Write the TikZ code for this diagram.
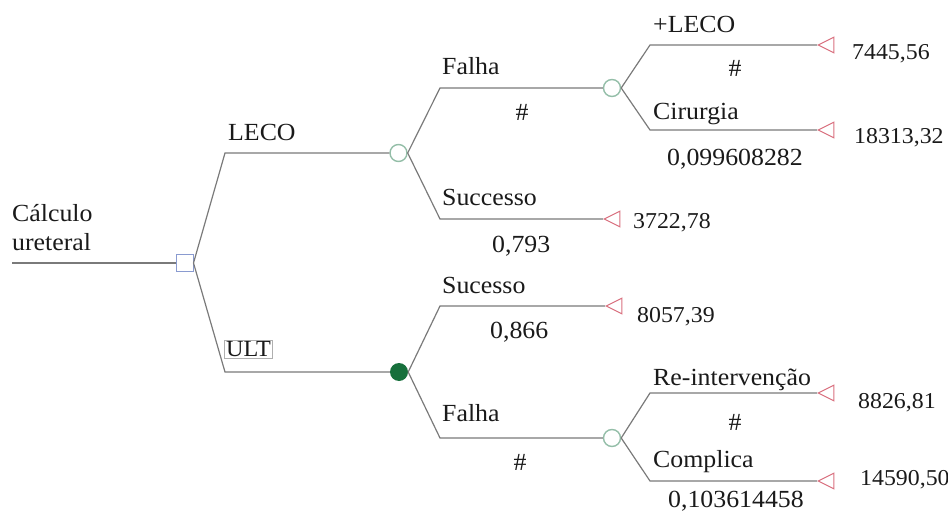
\documentclass[tikz,border=0pt]{standalone}
\usepackage{fontspec}
\setmainfont{Liberation Serif}[FakeStretch=1.05]
\usetikzlibrary{shapes.geometric}
\definecolor{branch}{HTML}{7A7A7A}
\definecolor{chanceline}{HTML}{94BEA8}
\definecolor{chancefill}{HTML}{17703C}
\definecolor{decline}{HTML}{8A9BD0}
\definecolor{termline}{HTML}{D9707F}
\definecolor{ink}{HTML}{1A1A1A}

\begin{document}
\begin{tikzpicture}
  [x=1pt,y=-1pt,
   every node/.style={text=ink,font=\fontsize{24.6}{28}\selectfont},
   lbl/.style={anchor=base west,inner sep=0pt},
   hsh/.style={anchor=base,inner sep=0pt},
   pay/.style={anchor=base west,inner sep=0pt,font=\fontsize{22.7}{25}\selectfont},
   decision/.style={rectangle,draw=decline,line width=1pt,minimum size=17pt,inner sep=0pt},
   chance/.style={circle,draw=chanceline,line width=1.4pt,minimum size=17pt,inner sep=0pt},
   chancedone/.style={circle,fill=chancefill,minimum size=18pt,inner sep=0pt},
   term/.style={isosceles triangle,shape border rotate=180,isosceles triangle stretches,
     draw=termline,line width=1pt,minimum width=15.5pt,minimum height=15.5pt,inner sep=0pt,anchor=apex},
   edge/.style={draw=branch,line width=1.2pt}]
  \useasboundingbox (0,0) rectangle (948,516);
  % tree nodes
  \coordinate (r) at (12,263);
  \node[decision] (d) at (184.5,263) {};
  \node[chance] (c1) at (398.5,153) {};
  \node[chancedone] (c2) at (399,372) {};
  \node[chance] (c3) at (612,88) {};
  \node[chance] (c4) at (612,438) {};
  \node[term] (t1) at (817,45) {};
  \node[term] (t2) at (817,130) {};
  \node[term] (t3) at (603,219) {};
  \node[term] (t4) at (605,306) {};
  \node[term] (t5) at (817,393) {};
  \node[term] (t6) at (817,481) {};
  % corners
  \coordinate (k1) at (225,153);
  \coordinate (k2) at (225,372);
  \coordinate (k3) at (440,88);
  \coordinate (k4) at (440,219);
  \coordinate (k5) at (650,45);
  \coordinate (k6) at (650,130);
  \coordinate (k7) at (440,306);
  \coordinate (k8) at (440,438);
  \coordinate (k9) at (650,393);
  \coordinate (k10) at (650,481);
  \draw[edge] (r) -- (d);
  \foreach \from/\via/\to in {d/k1/c1,d/k2/c2,c1/k3/c3,c1/k4/t3,c3/k5/t1,c3/k6/t2,
      c2/k7/t4,c2/k8/c4,c4/k9/t5,c4/k10/t6}
    \draw[edge] (\from.east) -- (\via) -- (\to);
  % labels
  \node[lbl] (root1) at (12,222) {Cálculo};
  \node[lbl] (root2) at (12,250) {ureteral};
  \node[lbl] (leco) at (228,141) {LECO};
  \node[draw=branch!60,line width=0.6pt,inner sep=1.5pt,font=\fontsize{23}{25}\selectfont] (ult) at (248.5,349) {ULT};
  \node[lbl] (falha1) at (442,75) {Falha};
  \node[hsh] (p1) at (522,121) {\#};
  \node[lbl] (succ1) at (442,205) {Successo};
  \node[lbl] (p2) at (492,252) {0,793};
  \node[lbl] (leco2) at (653,33) {+LECO};
  \node[hsh] (p3) at (735,77) {\#};
  \node[lbl] (cir) at (653,120) {Cirurgia};
  \node[lbl] (p4) at (667,165) {0,099608282};
  \node[lbl] (succ2) at (442,293) {Sucesso};
  \node[lbl] (p5) at (490,338) {0,866};
  \node[lbl] (falha2) at (442,421) {Falha};
  \node[hsh] (p6) at (520,470) {\#};
  \node[lbl] (reint) at (653,385) {Re-intervenção};
  \node[hsh] (p7) at (735,430) {\#};
  \node[lbl] (comp) at (653,467) {Complica};
  \node[lbl] (p8) at (668,507) {0,103614458};
  % payoffs
  \node[pay] (v1) at (852,60) {7445,56};
  \node[pay] (v2) at (854,144) {18313,32};
  \node[pay] (v3) at (633,228) {3722,78};
  \node[pay] (v4) at (637,322) {8057,39};
  \node[pay] (v5) at (858,408) {8826,81};
  \node[pay] (v6) at (860,485) {14590,50};
\end{tikzpicture}
\end{document}
